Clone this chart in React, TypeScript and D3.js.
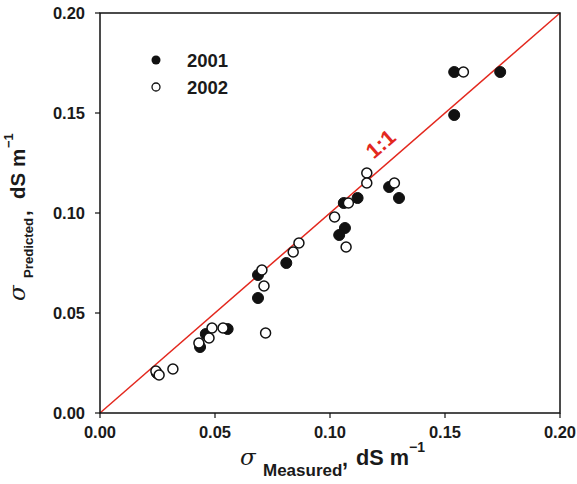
import React from 'react';
import { scaleLinear } from 'd3';

// measured vs predicted conductivity, dS m-1
const measured2001 = [0.154, 0.174, 0.154, 0.112, 0.130, 0.1257, 0.106, 0.1065, 0.104, 0.081, 0.0687, 0.0687, 0.0435, 0.046, 0.0555, 0.0247];
const predicted2001 = [0.1705, 0.1705, 0.149, 0.1075, 0.1075, 0.113, 0.105, 0.0925, 0.089, 0.075, 0.069, 0.0575, 0.033, 0.0395, 0.042, 0.020];
const measured2002 = [0.158, 0.116, 0.116, 0.128, 0.108, 0.102, 0.107, 0.0865, 0.084, 0.0704, 0.0713, 0.072, 0.043, 0.0474, 0.0487, 0.0535, 0.0243, 0.0257, 0.0317];
const predicted2002 = [0.1705, 0.12, 0.115, 0.115, 0.105, 0.098, 0.083, 0.085, 0.0805, 0.0715, 0.0635, 0.040, 0.035, 0.0375, 0.0425, 0.0425, 0.021, 0.019, 0.022];
const ticks = [0, 0.05, 0.1, 0.15, 0.2];
const seriesNames = ['2001', '2002'];

const App = () => {
    const svgWidth = 577;
    const svgHeight = 484;
    const margin = { top: 13, right: 17, bottom: 71, left: 100 };
    const width = svgWidth - margin.left - margin.right;
    const height = svgHeight - margin.top - margin.bottom;

    const x = scaleLinear().domain([0, 0.2]).range([0, width]);
    const y = scaleLinear().domain([0, 0.2]).range([height, 0]);

    const font = 'Liberation Sans, Arial, sans-serif';
    const serif = 'DejaVu Serif, serif';
    const ink = '#1a1a1a';
    const angle = -Math.atan2(height, width) * 180 / Math.PI;

    return (
        <div style={{ position: 'absolute', left: 0, top: 0 }}>
            <svg width={svgWidth} height={svgHeight} style={{ display: 'block', background: '#fff' }}>
                <g transform={`translate(${margin.left},${margin.top})`}>
                    {/* 1:1 line */}
                    <line x1={x(0)} y1={y(0)} x2={x(0.2)} y2={y(0.2)} stroke='#e3281e' strokeWidth={1.5} />
                    <text transform={`translate(285.5,136.5) rotate(${angle})`} textAnchor='middle' fill='#e3281e'
                        fontFamily={font} fontWeight='bold' fontSize={21.5}>1:1</text>

                    {measured2001.map((m, i) =>
                        <circle key={'a' + i} cx={x(m)} cy={y(predicted2001[i])} r={5.5} fill='#111' stroke='#111' strokeWidth={1} />)}
                    {measured2002.map((m, i) =>
                        <circle key={'b' + i} cx={x(m)} cy={y(predicted2002[i])} r={5} fill='#fff' stroke='#111' strokeWidth={1.5} />)}

                    {/* frame */}
                    <rect x={0} y={0} width={width} height={height} fill='none' stroke='#111' strokeWidth={1.5} />

                    {ticks.map(t =>
                        <g key={'x' + t}>
                            <line x1={x(t)} x2={x(t)} y1={height} y2={height + 5} stroke='#111' strokeWidth={1.2} />
                            <text x={x(t)} y={height + 25} textAnchor='middle' fontFamily={font} fontWeight='bold' fontSize={16.5} fill={ink}>{t.toFixed(2)}</text>
                        </g>)}
                    {ticks.map(t =>
                        <g key={'y' + t}>
                            <line x1={-5} x2={0} y1={y(t)} y2={y(t)} stroke='#111' strokeWidth={1.2} />
                            <text x={-15} y={y(t) + 6} textAnchor='end' fontFamily={font} fontWeight='bold' fontSize={16.5} fill={ink}>{t.toFixed(2)}</text>
                        </g>)}

                    {/* legend */}
                    {seriesNames.map((s, i) =>
                        <g key={s} transform={`translate(56,${47 + i * 27})`}>
                            {i === 0
                                ? <circle cx={0} cy={0} r={4.5} fill='#111' />
                                : <circle cx={0} cy={0} r={4} fill='#fff' stroke='#111' strokeWidth={1.3} />}
                            <text x={31} y={7} fontFamily={font} fontWeight='bold' fontSize={18.5} fill={ink}>{s}</text>
                        </g>)}
                </g>

                {/* x title */}
                <g fontFamily={font} fontWeight='bold' fill={ink}>
                    <text x={240} y={465} fontFamily={serif} fontStyle='italic' fontWeight='normal' fontSize={23}>σ</text>
                    <text x={263} y={476} fontSize={17}>Measured</text>
                    <text x={342} y={466} fontSize={21.5}>,</text>
                    <text x={356} y={465} fontSize={21.7}>dS m</text>
                    <text x={409} y={452} fontSize={14}>−1</text>
                </g>

                {/* y title */}
                <g transform='rotate(-90)' fontFamily={font} fontWeight='bold' fill={ink}>
                    <text x={-301} y={25} fontFamily={serif} fontStyle='italic' fontWeight='normal' fontSize={23}>σ</text>
                    <text x={-278} y={33} fontSize={13.2}>Predicted</text>
                    <text x={-216} y={30} fontSize={20}>,</text>
                    <text x={-199} y={25} fontSize={20.5}>dS m</text>
                    <text x={-148} y={13} fontSize={13}>−1</text>
                </g>
            </svg>
        </div>
    );
}

export default App;
